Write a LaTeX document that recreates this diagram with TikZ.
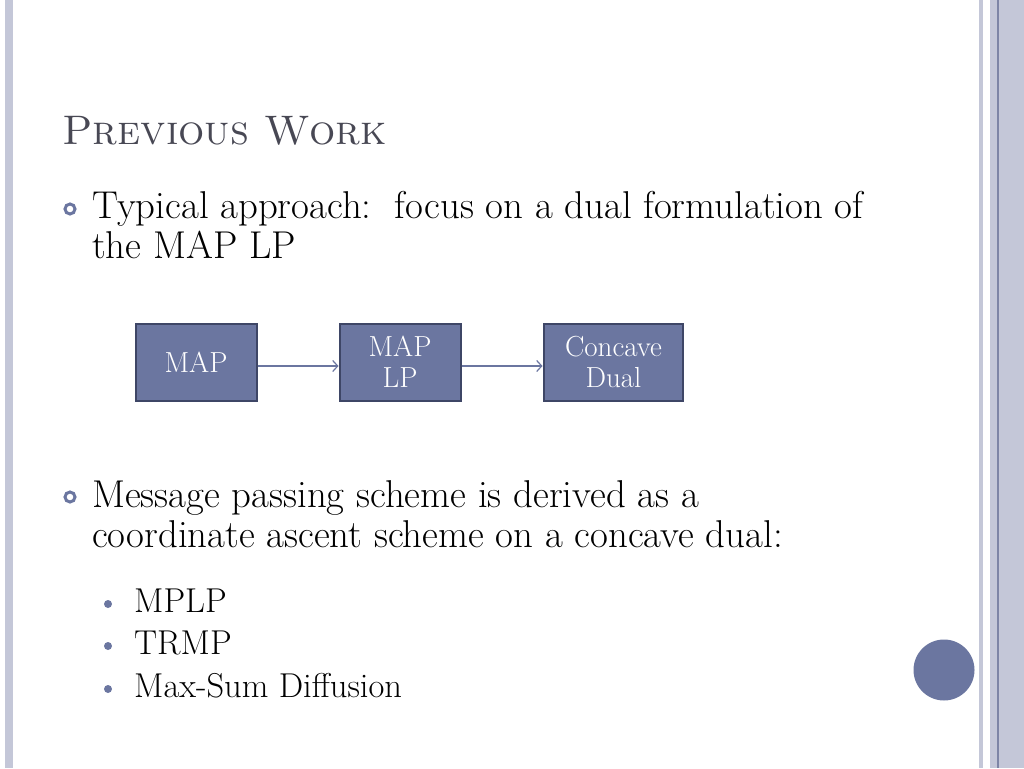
\documentclass[tikz,border=0pt]{standalone}
\usepackage{fontspec}
\usetikzlibrary{positioning,arrows.meta}
\definecolor{slate}{RGB}{107,118,160}
\definecolor{slatedark}{RGB}{62,70,102}
\definecolor{stripe}{RGB}{196,199,216}
\definecolor{stripedark}{RGB}{126,133,166}
\definecolor{titlegray}{RGB}{72,72,84}

\begin{document}
\begin{tikzpicture}[x=1pt,y=-1pt,>={Straight Barb[length=5pt,width=11pt]},
    box/.style={rectangle,draw=slatedark,line width=2pt,fill=slate,text=white,
      minimum width=121pt,minimum height=77pt,inner xsep=21.5pt,align=center,
      font=\fontsize{29}{31}\selectfont},
    link/.style={->,draw=slate,line width=1.2pt},
    body/.style={anchor=base west,inner sep=0pt,align=left,
      font=\fontsize{38.8}{40}\selectfont},
    item/.style={anchor=base west,inner sep=0pt,font=\fontsize{34.5}{36}\selectfont},
    ring/.style={circle,draw=slate,line width=3pt,minimum size=10pt,inner sep=0pt},
    dot/.style={circle,fill=slate,minimum size=8pt,inner sep=0pt}]

  \useasboundingbox (0,0) rectangle (1024,768);
  % frame stripes
  \fill[stripe] (5,0) rectangle (13,768);
  \fill[stripe] (979,0) rectangle (983,768);
  \fill[stripe] (990,0) rectangle (1024,768);
  \draw[stripedark,line width=1.2pt] (998,0) -- (998,768);

  \node[anchor=base west,inner sep=0pt,text=titlegray,
    font=\fontsize{41.3}{48}\selectfont\scshape] (title) at (62,144) {Previous Work};

  % base anchor sits on the last line
  \node[ring] (ring1) at (70,209) {};
  \node[body] (approach) at (92,258) {Typical approach:\ \ focus on a dual formulation of\\the MAP LP};

  \node[box] (map) at (196,362) {MAP};
  \node[box] (maplp) [right=81pt of map] {MAP\\LP};
  \node[box] (dual) [right=81pt of maplp] {Concave\\Dual};

  \path ([yshift=-4pt]map.east) edge[link] ([yshift=-4pt]maplp.west)
    ([yshift=-4pt]maplp.east) edge[link] ([yshift=-4pt]dual.west);

  \node[ring] (ring2) at (70,497) {};
  \node[body] (passing) at (92,547) {Message passing scheme is derived as a\\coordinate ascent scheme on a concave dual:};

  \foreach \txt/\yb [count=\i] in {MPLP/612,TRMP/654,Max-Sum Diffusion/697} {
    \node[dot] (dot\i) at (108,\yb-8) {};
    \node[item] (item\i) at (134,\yb) {\txt};
  }

  \node[circle,fill=slate,minimum size=61pt,inner sep=0pt] (badge) at (944,670) {};
\end{tikzpicture}
\end{document}
